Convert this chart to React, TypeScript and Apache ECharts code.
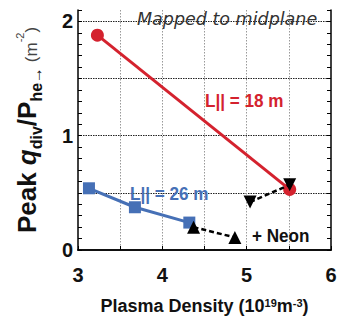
import React, { useEffect, useRef } from "react";
import * as echarts from "echarts";

// Plasma density (1e19 m^-3) vs peak q_div / P_he normalised heat flux
const red18: [number, number][] = [
  [3.23, 1.88],
  [5.51, 0.53],
];
const blue26: [number, number][] = [
  [3.13, 0.54],
  [3.675, 0.374],
  [4.32, 0.24],
];
const neonFrom26: [number, number][] = [
  [4.37, 0.2],
  [4.86, 0.11],
];
const neonFrom18: [number, number][] = [
  [5.04, 0.42],
  [5.51, 0.57],
];

const xTicks = [3, 4, 5, 6];
const yTicks = [0, 1, 2];

const FONT = "Liberation Sans, Arial, sans-serif";

export default function App() {
  const ref = useRef<HTMLDivElement>(null);

  useEffect(() => {
    if (!ref.current) return;
    const chart = echarts.init(ref.current, null, { renderer: "svg" });

    const axisTickStyle = { color: "#000", width: 1 };

    chart.setOption({
      animation: false,
      backgroundColor: "#fff",
      grid: { left: 78, right: 19, top: 10, bottom: 59, show: false },
      xAxis: [
        {
          type: "value",
          min: 3,
          max: 6,
          interval: 0.5,
          axisLine: { show: true, onZero: false, lineStyle: { color: "#000", width: 1.5 } },
          axisTick: { show: true, inside: true, length: 4, lineStyle: axisTickStyle },
          axisLabel: {
            color: "#111",
            fontFamily: FONT,
            fontWeight: "bold",
            fontSize: 20,
            margin: 15,
            formatter: (v: number) => (xTicks.includes(v) ? String(v) : ""),
          },
          splitLine: {
            show: true,
            showMinLine: false,
            showMaxLine: false,
            lineStyle: { color: "#999", type: [1.5, 1.5], width: 1 },
          },
          name: "{b|Plasma Density (10}{s|19}{b|m}{s|-3}{b|)}",
          nameLocation: "middle",
          nameGap: 47,
          nameTextStyle: {
            rich: {
              b: { fontFamily: FONT, fontWeight: "bold", fontSize: 18, color: "#111", verticalAlign: "bottom" },
              s: { fontFamily: FONT, fontWeight: "bold", fontSize: 11, color: "#111", verticalAlign: "top" },
            },
          },
        },
        {
          type: "value",
          position: "top",
          min: 3,
          max: 6,
          interval: 0.5,
          axisLine: { show: true, lineStyle: { color: "#000", width: 1.5 } },
          axisTick: { show: false },
          axisLabel: { show: false },
          splitLine: { show: false },
        },
      ],
      yAxis: [
        {
          type: "value",
          min: 0,
          max: 2.1,
          interval: 0.5,
          axisLine: { show: true, onZero: false, lineStyle: { color: "#000", width: 1.5 } },
          axisTick: { show: true, inside: true, length: 4, lineStyle: axisTickStyle },
          minorTick: { show: true, splitNumber: 5, length: 4, lineStyle: axisTickStyle },
          axisLabel: {
            color: "#111",
            fontFamily: FONT,
            fontWeight: "bold",
            fontSize: 20,
            margin: 5,
            formatter: (v: number) => (yTicks.includes(v) ? String(v) : ""),
          },
          splitLine: {
            show: true,
            showMinLine: false,
            showMaxLine: false,
            lineStyle: { color: "#222", type: [1.5, 1], width: 1 },
          },
          name:
            "{b|Peak }{bi|q}{sub|div}{b|/P}{sub|he\u2192}{n| (m}{sup|-2}{n|)}",
          nameLocation: "middle",
          nameRotate: 90,
          nameGap: 38,
          nameTextStyle: {
            rich: {
              b: { fontFamily: FONT, fontWeight: "bold", fontSize: 26, color: "#111", verticalAlign: "bottom" },
              bi: { fontFamily: FONT, fontWeight: "bold", fontStyle: "italic", fontSize: 26, color: "#111", verticalAlign: "bottom" },
              sub: { fontFamily: FONT, fontWeight: "bold", fontSize: 16, color: "#111", verticalAlign: "bottom", padding: [0, 0, -4, 0] },
              n: { fontFamily: FONT, fontSize: 17, color: "#444", verticalAlign: "bottom" },
              sup: { fontFamily: FONT, fontSize: 11, color: "#444", verticalAlign: "top" },
            },
          },
        },
        {
          type: "value",
          position: "right",
          min: 0,
          max: 2.1,
          interval: 0.5,
          axisLine: { show: true, lineStyle: { color: "#000", width: 1.5 } },
          axisTick: { show: true, inside: true, length: 4, lineStyle: axisTickStyle },
          minorTick: { show: true, splitNumber: 5, length: 4, lineStyle: axisTickStyle },
          axisLabel: { show: false },
          splitLine: { show: false },
        },
      ],
      series: [
        {
          type: "line",
          data: red18,
          symbol: "circle",
          symbolSize: 13,
          itemStyle: { color: "#d4222e" },
          lineStyle: { color: "#d4222e", width: 3 },
          z: 2,
        },
        {
          type: "line",
          data: blue26,
          symbol: "rect",
          symbolSize: 12,
          itemStyle: { color: "#4670b6" },
          lineStyle: { color: "#4670b6", width: 3 },
          z: 2,
        },
        {
          type: "line",
          data: neonFrom26,
          symbol: "triangle",
          symbolSize: 13,
          itemStyle: { color: "#000" },
          lineStyle: { color: "#000", width: 2.5, type: [5, 3] },
          z: 3,
        },
        {
          type: "line",
          data: neonFrom18,
          symbol: "triangle",
          symbolRotate: 180,
          symbolSize: 13,
          itemStyle: { color: "#000" },
          lineStyle: { color: "#000", width: 2.5, type: [5, 3] },
          z: 3,
        },
      ],
      graphic: [
        {
          type: "text",
          left: 137,
          top: 10,
          z: 10,
          style: {
            text: "Mapped to midplane",
            fontFamily: "DejaVu Sans, sans-serif",
            fontStyle: "italic",
            fontSize: 17.5,
            fill: "#333",
          },
        },
        {
          type: "text",
          x: 205,
          y: 91,
          scaleX: 0.9,
          z: 10,
          style: {
            text: "L|| = 18 m",
            fontFamily: FONT,
            fontWeight: "bold",
            fontSize: 19,
            fill: "#d4222e",
          },
        },
        {
          type: "text",
          x: 130,
          y: 184,
          scaleX: 0.9,
          z: 10,
          style: {
            text: "L|| = 26 m",
            fontFamily: FONT,
            fontWeight: "bold",
            fontSize: 19,
            fill: "#4670b6",
          },
        },
        {
          type: "text",
          x: 252,
          y: 226,
          scaleX: 0.9,
          z: 10,
          style: {
            text: "+ Neon",
            fontFamily: FONT,
            fontWeight: "bold",
            fontSize: 19,
            fill: "#111",
          },
        },
      ],
    });

    return () => chart.dispose();
  }, []);

  return (
    <div
      ref={ref}
      style={{ position: "absolute", left: 0, top: 0, width: 350, height: 320 }}
    />
  );
}
